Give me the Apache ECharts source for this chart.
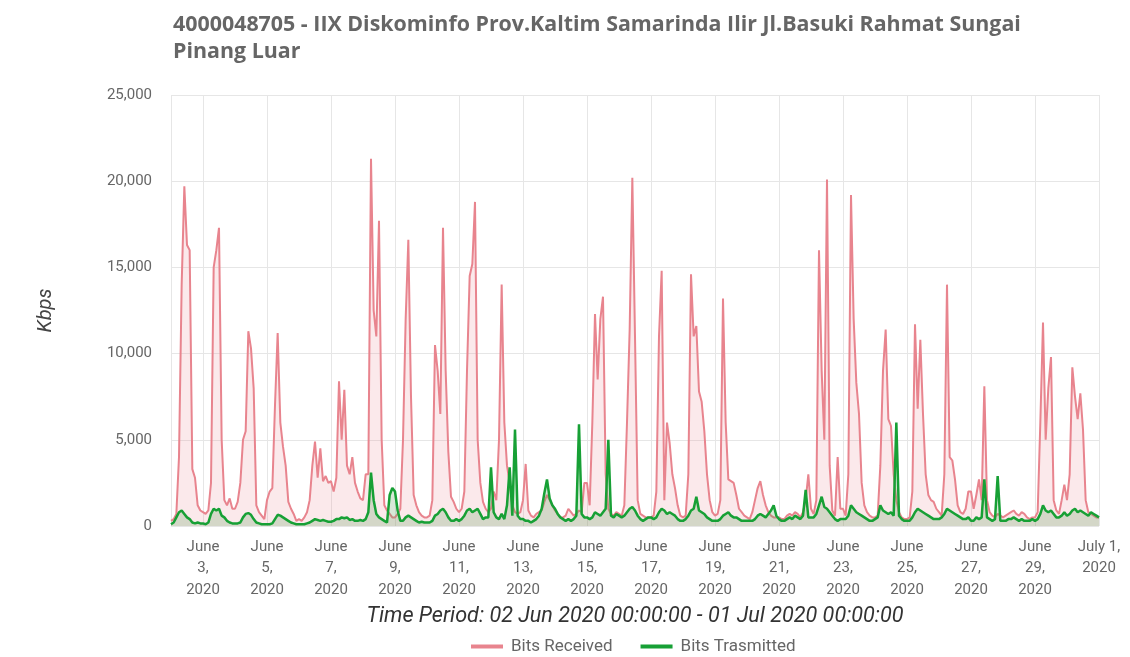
<!DOCTYPE html>
<html>
<head>
<meta charset="utf-8">
<script src="https://cdn.jsdelivr.net/npm/echarts@6/dist/echarts.min.js"></script>
<style>
html,body{margin:0;padding:0;background:#fff;}
#chart{width:1130px;height:657px;}
</style>
</head>
<body>
<div id="chart"></div>
<script>
// Two-hour samples starting 02 Jun 2020 00:00 (UTC), 12 per day, plus final point 01 Jul 2020 00:00
const startUTC = Date.UTC(2020, 5, 2);
const endUTC = Date.UTC(2020, 6, 1);
const stepMs = 2 * 3600 * 1000;

const bitsReceived = [
  300, 400, 700, 4000, 14000, 19700, 16300, 16000, 3300, 2800, 1200, 900,
  800, 700, 900, 2500, 15000, 16000, 17300, 5000, 1500, 1200, 1600, 1000,
  1000, 1400, 2500, 5000, 5500, 11300, 10300, 8000, 1200, 800, 600, 400,
  1500, 2000, 2200, 7000, 11200, 6000, 4600, 3500, 1400, 1000, 700, 300,
  400, 300, 500, 800, 1500, 3500, 4900, 2800, 4500, 2600, 2900, 2500,
  2600, 2000, 2800, 8400, 5000, 7900, 3500, 3000, 4000, 2500, 2000, 1600,
  1500, 3000, 3000, 21300, 12500, 11000, 17700, 5000, 1200, 900, 700, 500,
  500, 700, 1000, 5000, 12000, 16600, 7500, 1800, 1200, 800, 600, 500,
  500, 600, 1500, 10500, 9000, 6500, 17300, 9000, 4300, 1700, 1400, 1000,
  800, 1000, 2000, 9000, 14500, 15200, 18800, 5000, 2500, 1400, 1000, 800,
  1000, 2000, 1500, 5000, 14000, 6000, 3500, 2500, 1200, 800, 700, 800,
  1500, 3600, 900, 600, 500, 700, 800, 900, 1400, 1800, 1500, 1200,
  900, 700, 500, 500, 600, 1000, 800, 600, 700, 900, 800, 2500,
  2500, 1200, 6000, 12300, 8500, 12000, 13300, 3000, 1000, 700, 600, 800,
  700, 600, 1200, 6000, 11400, 20200, 11000, 1500, 700, 600, 500, 500,
  500, 600, 2000, 11000, 14800, 1500, 6000, 4800, 3000, 2200, 1200, 600,
  500, 600, 3000, 14600, 11000, 11600, 7800, 7200, 5500, 3000, 1500, 800,
  600, 700, 1500, 13200, 6000, 2700, 2600, 2500, 1800, 1000, 800, 600,
  500, 400, 800, 1500, 2200, 2600, 1800, 1200, 800, 600, 500, 500,
  500, 400, 400, 600, 700, 600, 800, 700, 500, 800, 1500, 3000,
  1000, 700, 1500, 16000, 9000, 5000, 20100, 3500, 900, 600, 4000, 1000,
  1000, 600, 3000, 19200, 12000, 8300, 6500, 2500, 1200, 800, 600, 500,
  500, 600, 3500, 9000, 11400, 6200, 5800, 3000, 1500, 800, 500, 400,
  400, 500, 2000, 11700, 6800, 10800, 6500, 3000, 1800, 1500, 1400, 1000,
  800, 600, 3000, 14000, 4000, 3800, 2700, 1200, 800, 700, 1000, 2000,
  2000, 1000, 1800, 2700, 1500, 8100, 1500, 800, 600, 500, 700, 600,
  500, 600, 700, 800, 900, 700, 600, 800, 700, 500, 400, 500,
  500, 800, 6000, 11800, 5000, 8000, 9800, 1500, 900, 700, 1500, 2400,
  1500, 3000, 9200, 7500, 6200, 7700, 5600, 1500, 800, 700, 600, 500,
  500
];

const bitsTransmitted = [
  100, 200, 500, 800, 900, 700, 500, 400, 200, 150, 200, 150,
  150, 100, 200, 700, 1000, 900, 1000, 600, 500, 300, 200, 150,
  150, 150, 200, 500, 700, 750, 650, 400, 200, 150, 100, 100,
  100, 100, 150, 400, 650, 600, 500, 400, 300, 200, 150, 100,
  100, 100, 100, 150, 200, 300, 400, 350, 300, 350, 300, 250,
  250, 300, 400, 400, 500, 450, 500, 350, 400, 300, 300, 350,
  300, 400, 800, 3100, 1500, 700, 500, 400, 300, 200, 1800, 2200,
  2000, 900, 300, 300, 500, 600, 500, 400, 300, 200, 250, 200,
  200, 200, 300, 600, 700, 900, 1000, 800, 500, 300, 300, 400,
  300, 400, 600, 900, 1000, 800, 900, 1000, 700, 400, 500, 500,
  3400, 800, 500, 400, 700, 400, 1200, 3400, 600, 5600, 600, 400,
  400, 300, 300, 200, 300, 400, 600, 1000, 1900, 2700, 1600, 1200,
  1000, 700, 500, 400, 300, 400, 300, 400, 600, 5900, 700, 500,
  500, 400, 500, 800, 700, 600, 800, 1000, 5000, 600, 500, 700,
  600, 500, 600, 800, 1000, 1100, 900, 600, 400, 300, 400, 500,
  500, 400, 500, 800, 1000, 900, 700, 800, 700, 600, 400, 300,
  300, 400, 600, 900, 1000, 1700, 900, 800, 700, 500, 400, 300,
  300, 300, 400, 600, 700, 800, 600, 500, 500, 400, 300, 300,
  300, 300, 300, 400, 600, 700, 600, 500, 700, 900, 1200, 600,
  400, 300, 300, 400, 500, 400, 600, 500, 400, 600, 2100, 500,
  500, 500, 700, 1200, 1700, 1100, 1000, 800, 600, 400, 300, 400,
  400, 400, 600, 1200, 1000, 800, 700, 600, 500, 400, 300, 300,
  400, 500, 1200, 900, 800, 700, 800, 600, 6000, 600, 400, 300,
  300, 300, 500, 800, 1000, 900, 800, 700, 600, 500, 400, 400,
  400, 500, 700, 1000, 900, 800, 700, 600, 500, 400, 400, 500,
  300, 300, 500, 400, 500, 2700, 500, 400, 300, 400, 2900, 300,
  300, 300, 400, 400, 500, 400, 300, 400, 300, 300, 300, 400,
  300, 400, 700, 1200, 900, 800, 900, 700, 500, 500, 600, 800,
  600, 700, 900, 1000, 800, 900, 800, 700, 600, 800, 700, 600,
  500
];

const monthNames = ['January','February','March','April','May','June','July','August','September','October','November','December'];
const titleText = '4000048705 - IIX Diskominfo Prov.Kaltim Samarinda Ilir Jl.Basuki Rahmat Sungai\nPinang Luar';
const periodText = 'Time Period: 02 Jun 2020 00:00:00 - 01 Jul 2020 00:00:00';
const yAxisName = 'Kbps';
const seriesNames = ['Bits Received', 'Bits Trasmitted'];

function toPairs(arr) {
  return arr.map((v, i) => [startUTC + i * stepMs, v]);
}

const chart = echarts.init(document.getElementById('chart'));
chart.setOption({
  useUTC: true,
  animation: false,
  backgroundColor: '#fff',
  textStyle: { fontFamily: 'Roboto, "Noto Sans", sans-serif' },
  title: {
    text: titleText,
    left: 168,
    top: 6,
    textStyle: { fontFamily: '"Open Sans"', fontWeight: 'bold', fontSize: 21.4, color: '#666', lineHeight: 27 }
  },
  grid: { left: 171, right: 31, top: 95, bottom: 131, containLabel: false },
  legend: {
    data: seriesNames,
    left: 466,
    top: 633,
    itemWidth: 32,
    itemHeight: 4,
    itemGap: 28,
    icon: 'rect',
    textStyle: { fontSize: 17, color: '#666', padding: [0, 0, 0, 3] }
  },
  xAxis: {
    type: 'time',
    min: startUTC,
    max: endUTC,
    splitNumber: 15,
    minInterval: 2 * 86400000,
    maxInterval: 2 * 86400000,
    name: periodText,
    nameLocation: 'middle',
    nameGap: 80,
    nameTextStyle: { fontStyle: 'italic', fontSize: 21.6, color: '#333' },
    axisLine: { show: false },
    axisTick: { show: false },
    splitLine: { show: true, lineStyle: { color: '#e6e6e6', width: 1 } },
    axisLabel: {
      showMinLabel: false,
      showMaxLabel: true,
      color: '#666',
      fontSize: 15,
      lineHeight: 21.5,
      margin: 10,
      formatter: function (value) {
        const d = new Date(value);
        const m = monthNames[d.getUTCMonth()];
        const day = d.getUTCDate();
        const y = d.getUTCFullYear();
        if (d.getUTCMonth() === 6) return m + ' ' + day + ',\n' + y;
        return m + '\n' + day + ',\n' + y;
      }
    }
  },
  yAxis: {
    type: 'value',
    min: 0,
    max: 25000,
    interval: 5000,
    name: yAxisName,
    nameLocation: 'middle',
    nameGap: 115,
    nameRotate: 90,
    nameTextStyle: { fontStyle: 'italic', fontSize: 20, color: '#444' },
    axisLine: { show: false },
    axisTick: { show: false },
    axisLabel: { color: '#666', fontSize: 15, margin: 19 },
    splitLine: { lineStyle: { color: '#e6e6e6', width: 1 } }
  },
  series: [
    {
      name: seriesNames[0],
      type: 'line',
      data: toPairs(bitsReceived),
      symbol: 'none',
      color: '#e8848e',
      lineStyle: { width: 2, color: '#e8848e' },
      areaStyle: { color: 'rgba(236,160,168,0.33)' },
      z: 2
    },
    {
      name: seriesNames[1],
      type: 'line',
      data: toPairs(bitsTransmitted),
      symbol: 'none',
      color: '#17a035',
      lineStyle: { width: 2.5, color: '#17a035' },
      areaStyle: { color: 'rgba(90,160,90,0.35)' },
      z: 3
    }
  ]
});
</script>
</body>
</html>
